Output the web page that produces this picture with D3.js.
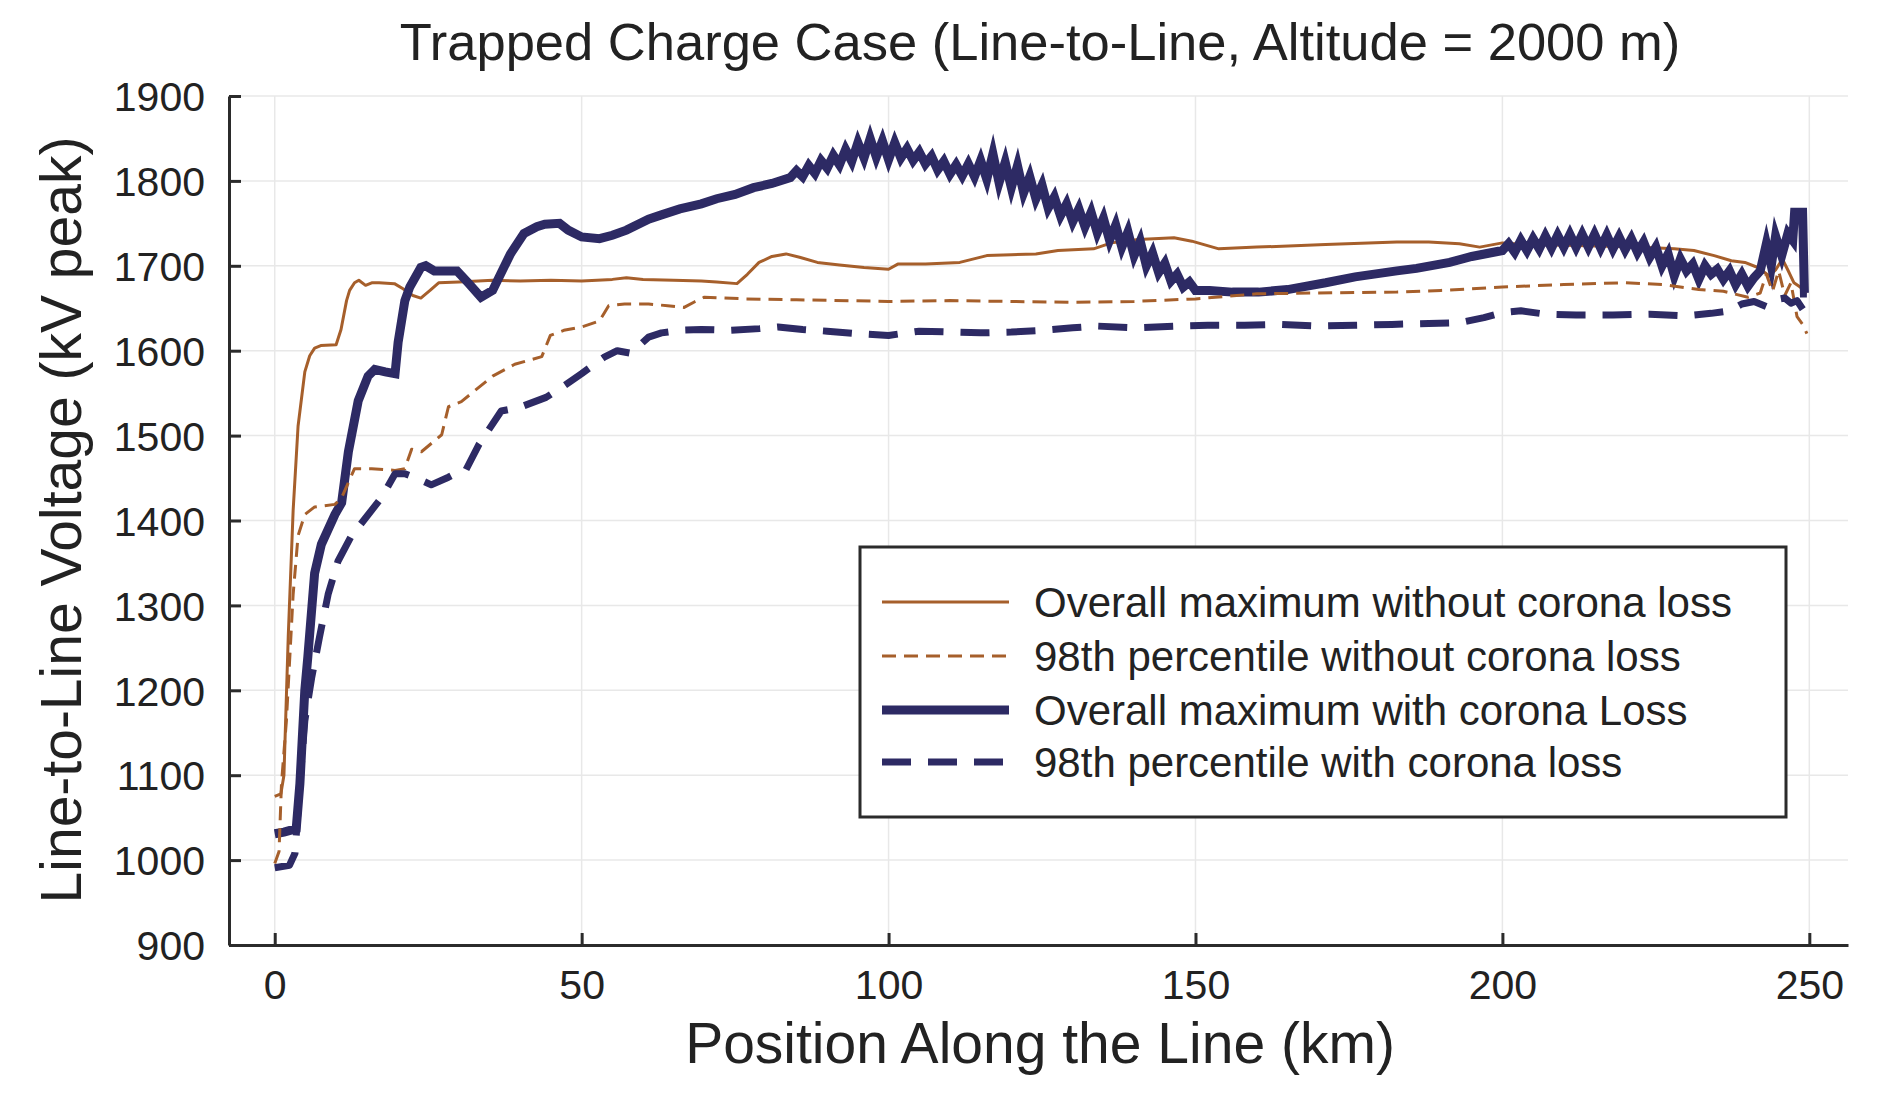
<!DOCTYPE html>
<meta charset="utf-8">
<script src="https://d3js.org/d3.v7.min.js"></script>
<style>
  body { margin: 0; background: #fff; }
  svg { display: block; font-family: "Liberation Sans", Arial, Helvetica, sans-serif; }
</style>
<body>
<div id="chart"></div>
<script>

// ---- data (km along the line, kV peak) ----
var kmMaxNoCorona = [0,1,1.5,2.2,3,3.8,4.9,5.7,6.5,7.5,10,10.8,11.7,12.2,13,13.7,14.8,15.8,17,19.5,20.9,22.5,23.8,25.3,26.7,30,35.5,40,45,50,55,57.3,60,65,69.5,72,75.3,77,78.9,81,83.3,85.5,88.4,92,96,100,101.5,106,111.6,116,120,124,127.6,133.4,136.3,140.7,146.5,149.4,153.8,160,171.2,182.8,188,193,196.3,200,204,212,222,228,231.2,234.5,237.3,239.5,241.6,243.5,244.5,245.6,246.5,247.5,248.5,249.5];
var kvMaxNoCorona = [1075,1078,1100,1263,1412,1511,1575,1594,1603,1606,1607,1625,1659,1671,1680,1683,1677,1680,1680,1679,1673,1665,1662,1671,1680,1681,1683,1682,1683,1682,1684,1686,1684,1683,1682,1681,1679,1690,1704,1711,1714,1710,1704,1701,1698,1696,1702,1702,1704,1712,1713,1714,1718,1720,1727,1731,1733,1729,1720,1722,1725,1728,1728,1726,1722,1727,1725,1724,1722,1720,1718,1712,1706,1704,1698,1688,1695,1708,1695,1680,1675,1667];

var kmP98NoCorona = [0,0.7,1.1,1.9,3,3.8,4.9,6.5,9.8,10.9,13,15.8,19.6,21.2,22.3,23.9,27.2,28.3,30.4,32.6,35.5,39.1,43.5,44.9,47.1,50,52.9,54.4,57,60.9,64,66.7,68.5,70,76.7,85,100,110,120,130,140,150,156.7,160,170,182.8,190,200,210,220,226,232,236,240,242,243,244,245,246,247,248,249,249.6];
var kvP98NoCorona = [996,1010,1090,1164,1313,1382,1407,1416,1419,1427,1461,1461,1459,1461,1484,1481,1501,1534,1540,1553,1570,1584,1593,1618,1624,1628,1635,1653,1655,1655,1653,1651,1658,1663,1661,1660,1658,1659,1658,1657,1658,1661,1665,1667,1668,1669,1671,1675,1678,1680,1678,1672,1670,1663,1668,1690,1670,1694,1665,1680,1640,1630,1620];

var kmMaxCorona = [0,1.5,3.5,4.1,4.9,5.4,6.5,7.6,9.8,10.9,12,13.6,15.2,16.3,18,19.6,20.1,21.2,22,23.8,24.6,26,28.2,29.7,31.5,33.6,35.5,38.4,40.6,42.7,44,46.4,47.8,50,52.9,55,57.3,60.9,63,66,69.5,72,75,78,81,84,
  85,86,87,88,89,90,91,92,93,94,95,96,97,98,99,100,101,102,103,104,105,106,107,108,109,110,111,112,113,114,115,116,117,118,119,120,121,122,123,124,125,126,127,128,129,130,131,132,133,134,135,136,137,138,139,140,141,142,143,144,145,146,147,148,149,150,
  152.3,156,160.3,165,171.2,176,182.8,186,191.4,195,
  200,201,202,203,204,205,206,207,208,209,210,211,212,213,214,215,216,217,218,219,220,221,222,223,224,225,226,227,228,229,230,231,232,233,234,235,236,237,238,239,240,241,242,243,243.8,244.5,245.5,246.5,247.3,247.6,248.9,249.2,249.6];
var kvMaxCorona = [1031,1033,1037,1090,1200,1240,1338,1372,1407,1421,1481,1541,1570,1578,1575,1573,1610,1659,1675,1698,1700,1694,1694,1694,1680,1663,1671,1714,1738,1746,1749,1750,1742,1734,1732,1736,1742,1755,1760,1767,1773,1779,1784,1792,1797,1804,
  1812,1805,1818,1809,1824,1815,1830,1819,1837,1823,1845,1827,1850,1828,1847,1825,1845,1827,1838,1824,1834,1820,1829,1813,1823,1808,1819,1806,1820,1805,1824,1802,1832,1798,1822,1792,1818,1786,1805,1779,1795,1768,1781,1759,1773,1752,1767,1746,1763,1739,1756,1730,1748,1722,1740,1712,1729,1700,1715,1692,1703,1682,1690,1675,1681,1671,
  1671,1669,1669,1672,1680,1687,1694,1697,1704,1711,
  1718,1726,1716,1730,1718,1732,1720,1735,1721,1736,1722,1737,1722,1737,1722,1737,1721,1736,1720,1734,1719,1732,1716,1728,1710,1722,1700,1714,1688,1708,1694,1702,1684,1700,1690,1696,1684,1694,1678,1690,1676,1686,1694,1726,1700,1735,1712,1738,1730,1763,1763,1668,1668];

var kmP98Corona = [0,2.4,3.3,4.1,4.9,6,7.3,8.7,10.3,12.5,14.7,17.4,19.6,21.2,23.4,25.5,28.3,30.4,31.1,33.3,36.9,39.8,44.2,47,50,53.6,55.8,58,60.9,63,66,69.5,74,79,82,86,90,95,100,105,110,115,120,125,130,134,140,147,152,158,164,170,176,182,188,193,197,200,203,207,212,218,224,230,234,237,239,241,243,244.5,246,247,248,249,249.5];
var kvP98Corona = [991,994,1008,1090,1164,1214,1263,1313,1352,1382,1402,1427,1455,1455,1449,1442,1451,1459,1459,1490,1529,1533,1545,1558,1573,1592,1600,1597,1616,1621,1624,1625,1624,1626,1628,1625,1623,1620,1618,1623,1622,1621,1622,1624,1627,1629,1627,1629,1630,1630,1631,1629,1630,1631,1632,1633,1639,1645,1647,1643,1642,1642,1643,1641,1644,1647,1655,1658,1652,1660,1662,1656,1659,1648,1636];

var xTicks = [0, 50, 100, 150, 200, 250];
var yTicks = [900, 1000, 1100, 1200, 1300, 1400, 1500, 1600, 1700, 1800, 1900];

var brown = "#a65f2b", navy = "#2d2a64";

var series = [
  {name: "Overall maximum without corona loss", km: kmMaxNoCorona, kv: kvMaxNoCorona, color: brown, w: 3, dash: null, join: "round"},
  {name: "98th percentile without corona loss", km: kmP98NoCorona, kv: kvP98NoCorona, color: brown, w: 3, dash: "14,8", join: "round"},
  {name: "Overall maximum with corona Loss", km: kmMaxCorona, kv: kvMaxCorona, color: navy, w: 9, dash: null, join: "miter"},
  {name: "98th percentile with corona loss", km: kmP98Corona, kv: kvP98Corona, color: navy, w: 7, dash: "29,17", join: "round"}
];

var W = 1888, H = 1106;
var plotL = 229, plotR = 1848, plotT = 96, plotB = 945;

var svg = d3.select("#chart").append("svg")
  .attr("width", W).attr("height", H);

svg.append("rect").attr("width", W).attr("height", H).attr("fill", "#fff");

var x = d3.scaleLinear().domain([-7.45, 256.3]).range([plotL, plotR]);
var y = d3.scaleLinear().domain([900, 1900]).range([plotB, plotT]);

// grid
svg.append("g").selectAll("line").data(xTicks).enter().append("line")
  .attr("x1", d => x(d)).attr("x2", d => x(d))
  .attr("y1", plotT).attr("y2", plotB)
  .attr("stroke", "#e8e8e8").attr("stroke-width", 1.5);
svg.append("g").selectAll("line").data(yTicks).enter().append("line")
  .attr("x1", plotL).attr("x2", plotR)
  .attr("y1", d => y(d)).attr("y2", d => y(d))
  .attr("stroke", "#e8e8e8").attr("stroke-width", 1.5);

// lines (draw order as in the picture)
var line = d3.line().x(d => x(d[0])).y(d => y(d[1]));
[0, 2, 1, 3].forEach(function(i) {
  var s = series[i];
  svg.append("path")
    .datum(d3.zip(s.km, s.kv))
    .attr("d", line)
    .attr("fill", "none")
    .attr("stroke", s.color)
    .attr("stroke-width", s.w)
    .attr("stroke-linejoin", s.join)
    .attr("stroke-miterlimit", 6)
    .attr("stroke-dasharray", s.dash);
});

// axes
var yAxis = d3.axisLeft(y).tickValues(yTicks).tickFormat(d3.format("d")).tickSize(-12).tickPadding(24).tickSizeOuter(0);
var xAxis = d3.axisBottom(x).tickValues(xTicks).tickFormat(d3.format("d")).tickSize(-12).tickPadding(24).tickSizeOuter(0);

var gy = svg.append("g").attr("transform", "translate(" + plotL + ",0)").call(yAxis);
var gx = svg.append("g").attr("transform", "translate(0," + plotB + ")").call(xAxis);
[gx, gy].forEach(function(g) {
  g.select(".domain").attr("stroke", "#2b2b2b").attr("stroke-width", 3);
  g.selectAll(".tick line").attr("stroke", "#2b2b2b").attr("stroke-width", 3);
  g.selectAll(".tick text").attr("fill", "#222").style("font-size", "41px")
    .style("font-family", "'Liberation Sans', Arial, sans-serif");
});
gy.selectAll(".tick text").attr("dy", "0.36em");
gx.selectAll(".tick text").attr("dy", "0.72em");

// titles
svg.append("text")
  .attr("x", 1040).attr("y", 60)
  .attr("text-anchor", "middle")
  .style("font-size", "52.5px").attr("fill", "#222")
  .text("Trapped Charge Case (Line-to-Line, Altitude = 2000 m)");

svg.append("text")
  .attr("x", 1040).attr("y", 1063)
  .attr("text-anchor", "middle")
  .style("font-size", "57px").attr("fill", "#222")
  .text("Position Along the Line (km)");

svg.append("text")
  .attr("transform", "translate(81,520)rotate(-90)")
  .attr("text-anchor", "middle")
  .style("font-size", "57px").attr("fill", "#222")
  .text("Line-to-Line Voltage (kV peak)");

// legend
var lg = svg.append("g");
lg.append("rect")
  .attr("x", 860).attr("y", 547).attr("width", 926).attr("height", 270)
  .attr("fill", "#fff").attr("stroke", "#2b2b2b").attr("stroke-width", 3);
var rowY = [602, 656, 710, 762];
series.forEach(function(s, i) {
  lg.append("line")
    .attr("x1", 882).attr("x2", 1009)
    .attr("y1", rowY[i]).attr("y2", rowY[i])
    .attr("stroke", s.color).attr("stroke-width", s.w)
    .attr("stroke-dasharray", s.dash);
  lg.append("text")
    .attr("x", 1034).attr("y", rowY[i]).attr("dy", "0.36em")
    .style("font-size", "42px").attr("fill", "#222")
    .text(s.name);
});

</script>
</body>
